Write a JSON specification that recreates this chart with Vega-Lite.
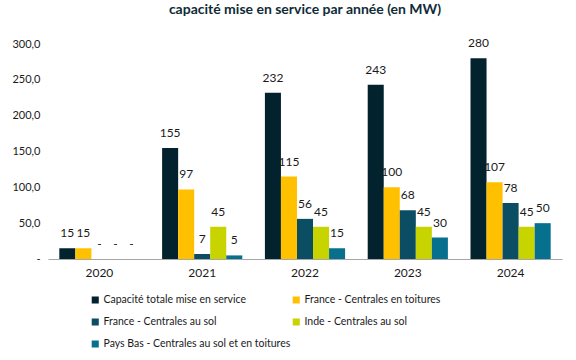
{
  "$schema": "https://vega.github.io/schema/vega-lite/v6.json",
  "width": 514,
  "height": 215,
  "autosize": {"type": "none"},
  "padding": {"left": 48, "right": 14, "top": 44, "bottom": 101},
  "background": "white",
  "title": {"text": "capacité mise en service par année (en MW)", "fontSize": 14, "fontWeight": "bold", "color": "#0F2B38", "font": "Lato", "anchor": "middle", "offset": 20},
  "config": {"view": {"stroke": null}, "font": "Lato"},
  "data": {"values": [
    {"annee": "2020", "serie": "Capacité totale mise en service", "valeur": 15, "label": "15"},
    {"annee": "2020", "serie": "France - Centrales en toitures", "valeur": 15, "label": "15"},
    {"annee": "2020", "serie": "France - Centrales au sol", "valeur": 0, "label": "-"},
    {"annee": "2020", "serie": "Inde - Centrales au sol", "valeur": 0, "label": "-"},
    {"annee": "2020", "serie": "Pays Bas - Centrales au sol et en toitures", "valeur": 0, "label": "-"},
    {"annee": "2021", "serie": "Capacité totale mise en service", "valeur": 155, "label": "155"},
    {"annee": "2021", "serie": "France - Centrales en toitures", "valeur": 97, "label": "97"},
    {"annee": "2021", "serie": "France - Centrales au sol", "valeur": 7, "label": "7"},
    {"annee": "2021", "serie": "Inde - Centrales au sol", "valeur": 45, "label": "45"},
    {"annee": "2021", "serie": "Pays Bas - Centrales au sol et en toitures", "valeur": 5, "label": "5"},
    {"annee": "2022", "serie": "Capacité totale mise en service", "valeur": 232, "label": "232"},
    {"annee": "2022", "serie": "France - Centrales en toitures", "valeur": 115, "label": "115"},
    {"annee": "2022", "serie": "France - Centrales au sol", "valeur": 56, "label": "56"},
    {"annee": "2022", "serie": "Inde - Centrales au sol", "valeur": 45, "label": "45"},
    {"annee": "2022", "serie": "Pays Bas - Centrales au sol et en toitures", "valeur": 15, "label": "15"},
    {"annee": "2023", "serie": "Capacité totale mise en service", "valeur": 243, "label": "243"},
    {"annee": "2023", "serie": "France - Centrales en toitures", "valeur": 100, "label": "100"},
    {"annee": "2023", "serie": "France - Centrales au sol", "valeur": 68, "label": "68"},
    {"annee": "2023", "serie": "Inde - Centrales au sol", "valeur": 45, "label": "45"},
    {"annee": "2023", "serie": "Pays Bas - Centrales au sol et en toitures", "valeur": 30, "label": "30"},
    {"annee": "2024", "serie": "Capacité totale mise en service", "valeur": 280, "label": "280"},
    {"annee": "2024", "serie": "France - Centrales en toitures", "valeur": 107, "label": "107"},
    {"annee": "2024", "serie": "France - Centrales au sol", "valeur": 78, "label": "78"},
    {"annee": "2024", "serie": "Inde - Centrales au sol", "valeur": 45, "label": "45"},
    {"annee": "2024", "serie": "Pays Bas - Centrales au sol et en toitures", "valeur": 50, "label": "50"}
  ]},
  "encoding": {
    "x": {"field": "annee", "type": "nominal", "scale": {"paddingInner": 0.22, "paddingOuter": 0.11},
      "axis": {"title": null, "labelAngle": 0, "ticks": false, "domainColor": "#A6A6A6", "domainWidth": 1, "labelPadding": 8, "labelFontSize": 12, "labelColor": "#1A1A1A"}},
    "xOffset": {"field": "serie", "type": "nominal", "sort": ["Capacité totale mise en service", "France - Centrales en toitures", "France - Centrales au sol", "Inde - Centrales au sol", "Pays Bas - Centrales au sol et en toitures"], "scale": {"paddingInner": 0, "paddingOuter": 0}},
    "y": {"field": "valeur", "type": "quantitative", "scale": {"domain": [0, 300]},
      "axis": {"title": null, "values": [0, 50, 100, 150, 200, 250, 300], "grid": false, "domain": false, "ticks": false, "labelPadding": 8, "labelFontSize": 11, "labelColor": "#1A1A1A",
        "labelExpr": "datum.value == 0 ? '-' : replace(format(datum.value, '.1f'), '.', ',')"}}
  },
  "layer": [
    {"mark": {"type": "bar"},
     "encoding": {"color": {"field": "serie", "type": "nominal",
       "scale": {"domain": ["Capacité totale mise en service", "France - Centrales en toitures", "France - Centrales au sol", "Inde - Centrales au sol", "Pays Bas - Centrales au sol et en toitures"],
                 "range": ["#02222E", "#FFC000", "#0B4D62", "#C8D400", "#06708E"]},
       "legend": {"title": null, "orient": "none", "legendX": 42, "legendY": 249, "direction": "horizontal", "columns": 2, "symbolType": "square", "symbolSize": 50, "symbolStrokeWidth": 0, "labelOffset": 3, "labelFontSize": 10.5, "labelColor": "#1A1A1A", "labelLimit": 300, "columnPadding": 0, "rowPadding": 8, "clipHeight": 14}}}},
    {"mark": {"type": "text", "baseline": "bottom", "dy": -8, "fontSize": 12, "color": "#1A1A1A"},
     "encoding": {"text": {"field": "label", "type": "nominal"}}}
  ]
}
